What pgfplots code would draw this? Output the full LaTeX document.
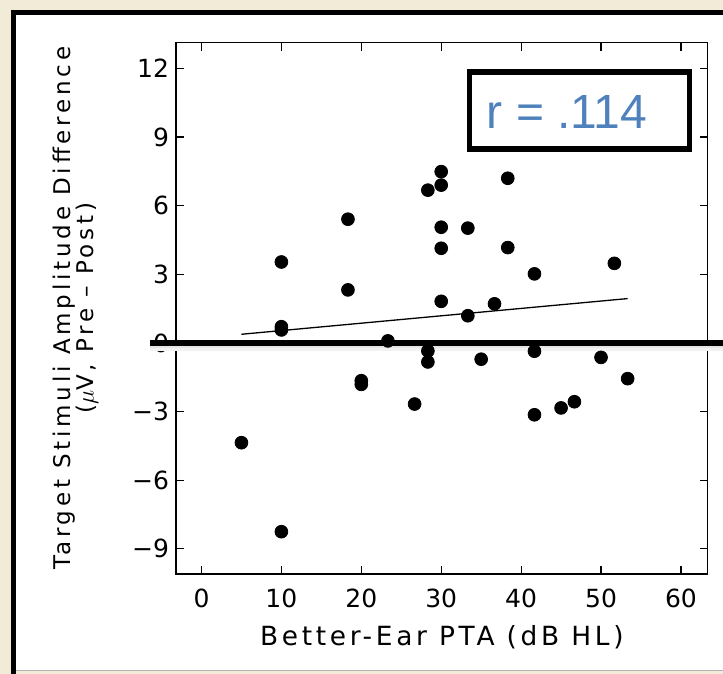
\documentclass[border=0pt]{standalone}
\usepackage{pgfplots}
\pgfplotsset{compat=1.18}
\usepackage{fontspec}
\setmainfont{DejaVu Sans}
\newfontfamily\lib{Liberation Sans}
\newfontfamily\xlab[LetterSpace=14]{DejaVu Sans}
\newfontfamily\ylab[LetterSpace=16.5]{DejaVu Sans}
\definecolor{beige}{RGB}{242,235,216}
\definecolor{rblue}{RGB}{79,129,189}
\begin{document}
\begin{tikzpicture}[x=0.5pt,y=-0.5pt]
\useasboundingbox (0,0) rectangle (723,674);
\fill[beige] (0,0) rectangle (723,674);
\fill[white] (13.5,12.5) rectangle (723,670);
\draw[line width=2.6pt] (13.5,674) -- (13.5,12.5) -- (723,12.5);
\draw[line width=0.6pt, black!30] (16,670.8) -- (723,670.8);
\begin{axis}[
  at={(88pt,-21.3pt)}, anchor=north west,
  scale only axis, width=265.85pt, height=265.7pt,
  xmin=-3.19, xmax=63.35, ymin=-10.1, ymax=13.13,
  xtick={0,10,20,30,40,50,60},
  ytick={-9,-6,-3,0,3,6,9,12},
  yticklabels={−9,−6,−3,0,3,6,9,12},
  xticklabels={0,10,20,30,40,50,60},
  tick align=inside, major tick length=4pt,
  tick style={black, line width=0.6pt},
  axis line style={line width=0.7pt},
  ticklabel style={font=\fontsize{12.5}{14}\selectfont},
  xticklabel style={yshift=-4pt},
  xlabel={Better-Ear PTA (dB HL)},
  xlabel style={font=\xlab\fontsize{13.2}{14}\selectfont, yshift=-2pt},
  ylabel={Target Stimuli Amplitude Difference\\($\mu$V, Pre – Post)},
  ylabel style={align=center, font=\ylab\fontsize{11.5}{11.7}\selectfont},
  ylabel shift=10pt,
  clip=false,
]
\draw[line width=3pt, black!5] (axis cs:-6.45,-0.22) -- (axis cs:65.3,-0.22);
\draw[line width=2pt, black!10] (axis cs:-6.45,-0.13) -- (axis cs:65.3,-0.13);
\draw[line width=3pt, black] (axis cs:-6.45,0) -- (axis cs:65.3,0);
\addplot[black, line width=0.65pt] coordinates {(5,0.38) (53.33,1.94)};
\addplot[only marks, mark=*, mark size=3.2pt, black] coordinates {
(5,-4.36) (10,-8.25) (10,3.54) (10,0.71) (10,0.57)
(18.33,5.41) (18.33,2.32) (20,-1.65) (20,-1.81) (23.33,0.09)
(26.67,-2.67) (28.33,6.68) (28.33,-0.35) (28.33,-0.83)
(30,7.49) (30,6.90) (30,5.06) (30,4.14) (30,1.82)
(33.33,5.02) (33.33,1.19) (35,-0.71) (36.67,1.71)
(38.33,7.20) (38.33,4.17) (41.67,3.02) (41.67,-0.36) (41.67,-3.14)
(45,-2.84) (46.67,-2.57) (50,-0.63) (51.67,3.48) (53.33,-1.56)
};
\end{axis}
\draw[line width=2.85pt] (469.5,71.8) rectangle (689.5,148.8);
\node[text=rblue, font=\lib\fontsize{24}{28}\selectfont] at (567,111.5) {r = .114};
\end{tikzpicture}
\end{document}
